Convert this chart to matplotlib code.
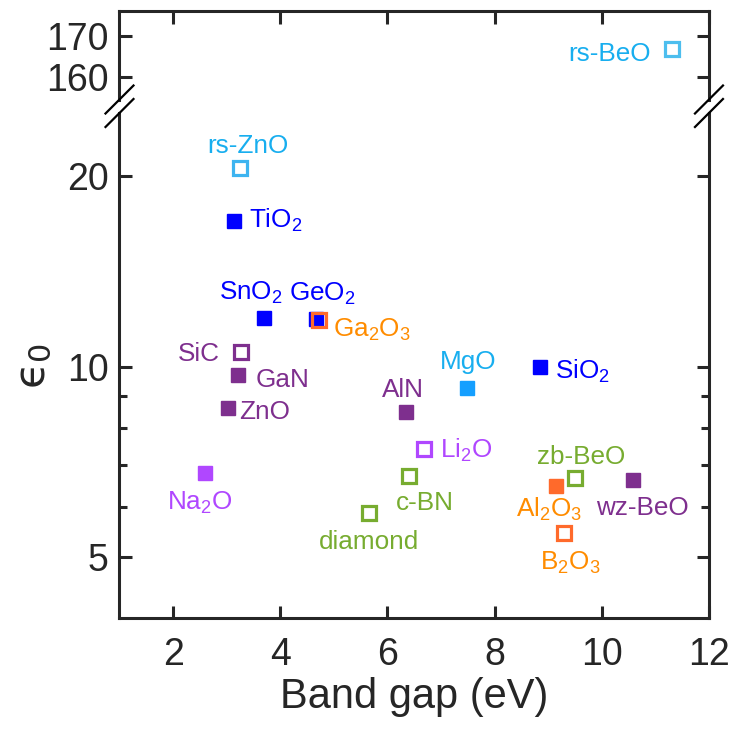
import matplotlib
matplotlib.use("Agg")
import matplotlib.pyplot as plt
from matplotlib.lines import Line2D

plt.rcParams['font.family'] = ['Liberation Sans', 'DejaVu Sans']
plt.rcParams['mathtext.fontset'] = 'custom'
plt.rcParams['mathtext.rm'] = 'Liberation Sans'
plt.rcParams['mathtext.it'] = 'Liberation Sans:italic'

# data
names = ['rs-ZnO', 'TiO$_2$', 'SnO$_2$', 'GeO$_2$', 'Ga$_2$O$_3$', 'SiC', 'GaN', 'ZnO',
         'Na$_2$O', 'AlN', 'MgO', 'Li$_2$O', 'c-BN', 'diamond', 'SiO$_2$', 'zb-BeO',
         'Al$_2$O$_3$', 'B$_2$O$_3$', 'wz-BeO', 'rs-BeO']
gap = [3.24, 3.14, 3.69, 4.67, 4.73, 3.27, 3.21, 3.02, 2.59, 6.34, 7.48, 6.69, 6.40,
       5.65, 8.85, 9.50, 9.14, 9.30, 10.59, 11.31]
eps0 = [20.6, 17.0, 11.96, 11.89, 11.87, 10.55, 9.70, 8.62, 6.80, 8.47, 9.27, 7.40, 6.71,
        5.87, 10.0, 6.68, 6.47, 5.45, 6.63, 166.8]
filled = [False, True, True, True, False, False, True, True, True, True, True, False, False,
          False, True, False, True, False, True, False]

purple = '#7E2F8E'
lpurple = '#B047FF'
blue = '#0000FF'
lblue_t = '#18AEEF'
orange_t = '#FF8C00'
orange_m = '#FF6A2B'
green = '#77AC30'
mark_col = ['#3DB4F0', blue, blue, blue, orange_m, purple, purple, purple, lpurple, purple,
            '#159FFF', lpurple, green, green, blue, green, orange_m, orange_m, purple, '#4DBEEE']
text_col = [lblue_t, blue, blue, blue, orange_t, purple, purple, purple, lpurple, purple,
            lblue_t, lpurple, green, green, blue, green, orange_t, orange_t, purple, lblue_t]
# label offsets (points) and alignment
offs = [(6, 11), (11, -5), (-9, 12.5), (4.5, 13.5), (9.5, -12), (-15, -6.5), (12.5, -8.6),
        (8.4, -8.6), (-3.4, -27), (-2, 11), (1.2, 13.7), (11, -6), (11.8, -24.5), (0, -25.6),
        (10.8, -8.4), (4.3, 9.6), (-5, -21.6), (4.6, -26.4), (6.8, -25.7), (-15, -8.2)]
has = ['center', 'left', 'center', 'center', 'left', 'right', 'left', 'left', 'center',
       'center', 'center', 'left', 'center', 'center', 'left', 'center', 'center', 'center',
       'center', 'right']

fig = plt.figure(figsize=(7.34, 7.29), dpi=100)
ax_top = fig.add_axes([0.1628, 0.8635, 0.8031, 0.1214])
ax = fig.add_axes([0.1628, 0.1527, 0.8031, 0.6923])

for i in range(len(names)):
    a = ax_top if eps0[i] > 100 else ax
    if filled[i]:
        a.plot(gap[i], eps0[i], 's', ms=10.5, color=mark_col[i], mec=mark_col[i], mew=1)
    else:
        a.plot(gap[i], eps0[i], 's', ms=10.2, mfc='none', mec=mark_col[i], mew=2.3)
    a.annotate(names[i], (gap[i], eps0[i]), xytext=offs[i], textcoords='offset points',
               ha=has[i], va='baseline', color=text_col[i], fontsize=18.8)

ax.set_yscale('log')
ax.set_ylim(4.01, 25.2)
ax.set_yticks([5, 10, 20])
ax.set_yticklabels(['5', '10', '20'])
ax.set_yticks([6, 7, 8, 9], minor=True)
ax.yaxis.set_minor_formatter(plt.NullFormatter())
ax_top.set_ylim(154.5, 176.2)
ax_top.set_yticks([160, 170])

for a in (ax, ax_top):
    a.set_xlim(1, 12)
    a.set_xticks([2, 4, 6, 8, 10, 12])
    for s in a.spines.values():
        s.set_linewidth(2.2)
        s.set_color('#262626')
    a.tick_params(which='both', direction='in', width=2.2, color='#262626',
                  labelsize=27, labelcolor='#262626', right=True)
    a.tick_params(which='major', length=9)
    a.tick_params(which='minor', length=5.5)
    a.tick_params(axis='y', pad=8)
    a.tick_params(axis='x', pad=14)

ax.spines['top'].set_visible(False)
ax.tick_params(axis='x', top=False)
ax_top.spines['bottom'].set_visible(False)
ax_top.tick_params(axis='x', top=True, bottom=False, labelbottom=False)

ax.set_xlabel('Band gap (eV)', fontsize=30, color='#262626', labelpad=3)
fig.text(34 / 734, 1 - 366 / 729, '$\\mathrm{\u03f5}_0$', rotation=90, fontsize=31,
         ha='center', va='center', color='#262626', math_fontfamily='dejavusans')

# break marks
fig.canvas.draw()
inv = fig.transFigure.inverted()
for a, yy in ((ax_top, 0), (ax, 1)):
    for xx in (0, 1):
        px, py = a.transAxes.transform((xx, yy))
        p1 = inv.transform((px - 14, py - 14))
        p2 = inv.transform((px + 14, py + 14))
        fig.add_artist(Line2D([p1[0], p2[0]], [p1[1], p2[1]], color='black', lw=1.6,
                              transform=fig.transFigure))

fig.savefig('out.png', dpi=100)
